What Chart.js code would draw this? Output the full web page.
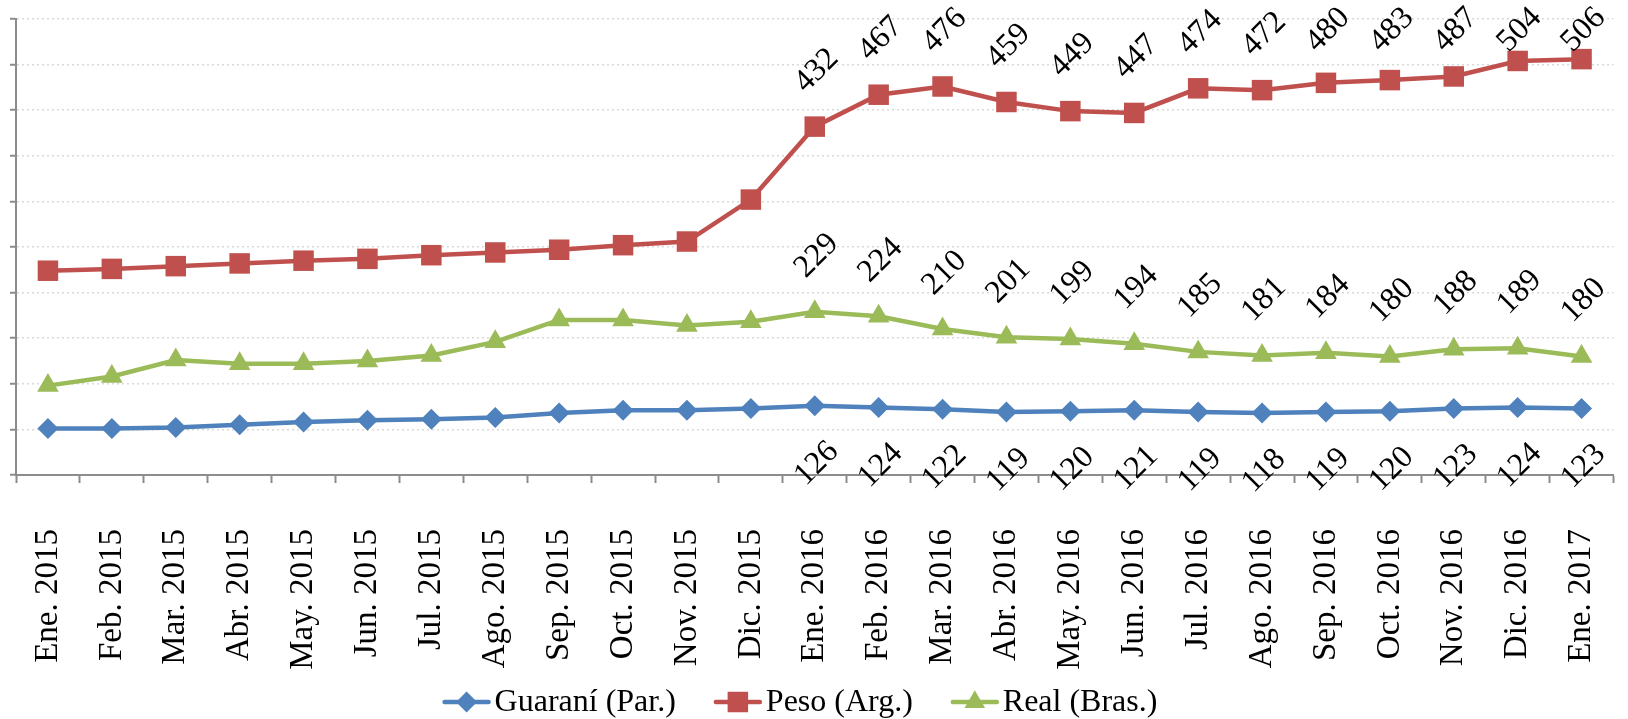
<!DOCTYPE html>
<html>
<head>
<meta charset="utf-8">
<title>Tipo de cambio</title>
<script src="https://cdn.jsdelivr.net/npm/chart.js@4/dist/chart.umd.min.js"></script>
<style>
  html, body { margin: 0; padding: 0; background: #fff; }
  canvas { display: block; }
</style>
</head>
<body>
<canvas id="chart" width="1628" height="719"></canvas>
<script>
"use strict";
const labels = [
  "Ene. 2015", "Feb. 2015", "Mar. 2015", "Abr. 2015", "May. 2015", "Jun. 2015",
  "Jul. 2015", "Ago. 2015", "Sep. 2015", "Oct. 2015", "Nov. 2015", "Dic. 2015",
  "Ene. 2016", "Feb. 2016", "Mar. 2016", "Abr. 2016", "May. 2016", "Jun. 2016",
  "Jul. 2016", "Ago. 2016", "Sep. 2016", "Oct. 2016", "Nov. 2016", "Dic. 2016",
  "Ene. 2017",
];
const guarani = [101, 101, 102, 105, 108, 110, 111, 113, 118, 121, 121, 123,
  126, 124, 122, 119, 120, 121, 119, 118, 119, 120, 123, 124, 123];
const peso = [274, 276, 279, 282, 285, 287, 291, 294, 297, 302, 306, 352,
  432, 467, 476, 459, 449, 447, 474, 472, 480, 483, 487, 504, 506];
const real = [148, 158, 176, 172, 172, 175, 181, 196, 220, 220, 214, 218,
  229, 224, 210, 201, 199, 194, 185, 181, 184, 180, 188, 189, 180];
const seriesNames = ["Guaraní (Par.)", "Peso (Arg.)", "Real (Bras.)"];
const firstLabelled = 12; // values are printed from Ene. 2016 on

const FONT = "'Liberation Serif', 'Times New Roman', serif";
const colors = ["#4F81BD", "#C0504D", "#9BBB59"];
const shapes = ["rectRot", "rect", "triangle"];
const radii = [10.5, 14.5, 12.5];

// rotated value labels, Peso/Real above the point, Guaraní below
const valueLabels = {
  id: "valueLabels",
  afterDatasetsDraw(chart) {
    const ctx = chart.ctx;
    ctx.save();
    ctx.font = "32px " + FONT;
    ctx.fillStyle = "#000";
    ctx.textAlign = "center";
    ctx.textBaseline = "middle";
    chart.data.datasets.forEach((ds, di) => {
      const meta = chart.getDatasetMeta(di);
      meta.data.forEach((pt, i) => {
        if (i < firstLabelled) return;
        let cy = di === 0 ? pt.y + 58 : pt.y - 56;
        cy = Math.max(cy, 30);
        ctx.save();
        ctx.translate(pt.x + 2, cy);
        ctx.rotate(-Math.PI / 4);
        ctx.fillText(String(ds.data[i]), 0, 0);
        ctx.restore();
      });
    });
    ctx.restore();
  },
};

function marker(ctx, shape, x, y, r, color) {
  ctx.fillStyle = color;
  ctx.beginPath();
  if (shape === "rectRot") {
    ctx.moveTo(x - r, y);
    ctx.lineTo(x, y - r);
    ctx.lineTo(x + r, y);
    ctx.lineTo(x, y + r);
  } else if (shape === "rect") {
    const s = r * Math.SQRT1_2;
    ctx.rect(x - s, y - s, 2 * s, 2 * s);
  } else {
    ctx.moveTo(x, y - r);
    ctx.lineTo(x + r * 0.866, y + r * 0.5);
    ctx.lineTo(x - r * 0.866, y + r * 0.5);
  }
  ctx.closePath();
  ctx.fill();
}

// legend with line + marker swatches, as in the original
const lineLegend = {
  id: "lineLegend",
  afterDraw(chart) {
    const ctx = chart.ctx;
    const y = 702;
    const lineW = 48, gapText = 4, gapItem = 38;
    ctx.save();
    ctx.font = "32px " + FONT;
    const widths = seriesNames.map((n) => ctx.measureText(n).width);
    const total = widths.reduce((a, w) => a + lineW + gapText + w, 0) + gapItem * (seriesNames.length - 1);
    let x = 800 - total / 2;
    seriesNames.forEach((name, i) => {
      ctx.strokeStyle = colors[i];
      ctx.lineWidth = 4.5;
      ctx.lineCap = "round";
      ctx.beginPath();
      ctx.moveTo(x + 2, y);
      ctx.lineTo(x + lineW - 2, y);
      ctx.stroke();
      marker(ctx, shapes[i], x + lineW / 2, y, radii[i] * (i === 2 ? 0.95 : 1), colors[i]);
      ctx.fillStyle = "#000";
      ctx.textAlign = "left";
      ctx.textBaseline = "middle";
      ctx.fillText(name, x + lineW + gapText, y + 1);
      x += lineW + gapText + widths[i] + gapItem;
    });
    ctx.restore();
  },
};

const makeSet = (i, data) => ({
  label: seriesNames[i],
  data: data,
  borderColor: colors[i],
  backgroundColor: colors[i],
  borderWidth: 4.5,
  pointStyle: shapes[i],
  pointRadius: radii[i],
  pointHoverRadius: radii[i],
  pointBorderWidth: 0,
  pointBackgroundColor: colors[i],
  tension: 0,
  clip: false,
});

const config = {
  type: "line",
  data: {
    labels: labels,
    datasets: [makeSet(0, guarani), makeSet(1, peso), makeSet(2, real)],
  },
  options: {
    responsive: false,
    animation: false,
    layout: { padding: { left: 9, right: 12, top: 19, bottom: 42 } },
    plugins: { legend: { display: false }, tooltip: { enabled: false } },
    scales: {
      x: {
        offset: true,
        grid: {
          offset: true,
          drawOnChartArea: false,
          tickLength: 8,
          tickColor: "#8c8c8c",
          tickWidth: 2,
        },
        border: { color: "#8c8c8c", width: 2 },
        ticks: {
          autoSkip: false,
          minRotation: 90,
          maxRotation: 90,
          padding: 46,
          color: "#000",
          font: { family: FONT, size: 33 },
        },
        afterFit(scale) {
          scale.height = 202;
          scale.paddingLeft = 0;
          scale.paddingRight = 0;
        },
      },
      y: {
        min: 50,
        max: 550,
        ticks: { stepSize: 50, display: false },
        grid: {
          color: "#d9d9d9",
          lineWidth: 1.5,
          tickLength: 6,
          tickColor: "#8c8c8c",
          tickWidth: 2,
        },
        border: { color: "#8c8c8c", width: 2, dash: [2, 3] },
        afterFit(scale) { scale.width = 7; },
      },
    },
  },
  plugins: [valueLabels, lineLegend],
};

const rateChart = new Chart(document.getElementById("chart"), config);
</script>
</body>
</html>
